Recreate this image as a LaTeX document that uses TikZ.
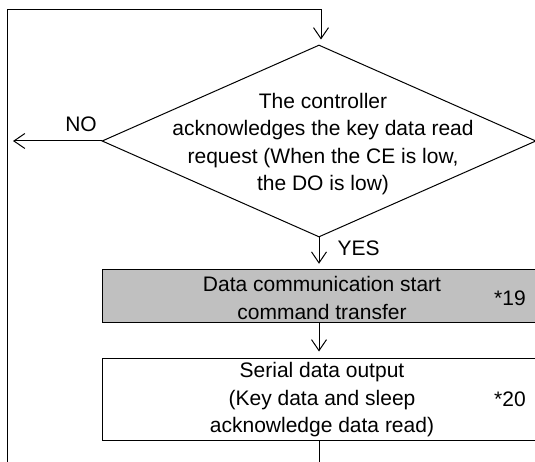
\documentclass[tikz,border=0pt]{standalone}
\usepackage{fontspec}
\setmainfont{Liberation Sans}
\usetikzlibrary{shapes.geometric,arrows.meta}
\definecolor{boxgray}{RGB}{192,192,192}
\begin{document}
\begin{tikzpicture}[x=1pt,y=-1pt,
  line width=1pt,
  txt/.style={font=\fontsize{21}{27.5}\selectfont, align=center, inner sep=0pt},
  flowbox/.style={draw, inner sep=0pt, minimum width=443pt},
  arr/.style={-{Straight Barb[length=11pt,width=15pt,line width=1pt]}, line width=1pt}
]
\clip (0,0) rectangle (535,462);
% decision
\node[diamond, draw, minimum width=434pt, minimum height=192pt, inner sep=0pt] (dec) at (319,141) {};
\node[txt] (dectext) at (323,144) {The controller\\acknowledges the key data read\\request (When the CE is low,\\the DO is low)};
% boxes
\node[flowbox, fill=boxgray, minimum height=53.5pt] (b1) at (323.5,296) {};
\node[txt] (b1text) at (322,298) {Data communication start\\command transfer};
\node[txt] (n19) at (510,298) {*19};
\node[flowbox, minimum height=82pt] (b2) at (323.5,399) {};
\node[txt] (b2text) at (322,400) {Serial data output\\(Key data and sleep\\acknowledge data read)};
\node[txt] (n20) at (510,399) {*20};
% labels
\node[txt] (no) at (81,124) {NO};
\node[txt, anchor=west] (yes) at (337,248) {YES};
% coordinates
\coordinate (topin) at (321,10);
\coordinate (topleft) at (7,10);
\coordinate (botleft) at (7,470);
\coordinate (noend) at (13,141);
\coordinate (botout) at (321,470);
% connectors
\draw[arr, shorten >=5pt] (botleft) -- (topleft) -- (topin) -- (topin |- dec.north);
\draw[arr] (dec.west) -- (noend);
\draw[arr, shorten >=5pt] (dec.south) -- (dec.south |- b1.north);
\draw[arr, shorten >=6pt] (b1.south -| dec.south) -- (b2.north -| dec.south);
\draw (b2.south -| dec.south) -- (botout -| dec.south);
\end{tikzpicture}
\end{document}
